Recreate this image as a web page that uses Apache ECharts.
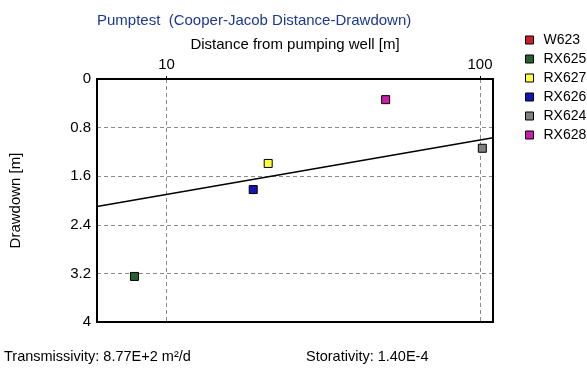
<!DOCTYPE html>
<html>
<head>
<meta charset="utf-8">
<script src="https://cdn.jsdelivr.net/npm/echarts@6/dist/echarts.min.js"></script>
<style>
html,body{margin:0;padding:0;background:#fff;}
#chart{width:587px;height:372px;}
</style>
</head>
<body>
<div id="chart"></div>
<script>
// ---- data ----
var seriesNames = ['W623', 'RX625', 'RX627', 'RX626', 'RX624', 'RX628'];
var seriesColors = ['#cc1f2e', '#27612f', '#ffff44', '#1414b4', '#808080', '#c81eaa'];
var distances = [[], [7.9], [21.1], [18.9], [101.7], [50.0]];
var drawdowns = [[], [3.25], [1.39], [1.82], [1.14], [0.34]];
var fitDistance = [6, 110];
var fitDrawdown = [2.10, 0.967];
var yTicks = [0, 0.8, 1.6, 2.4, 3.2, 4];
var xTickLabels = [10, 100];

var FONT = 'Liberation Sans';
var chart = echarts.init(document.getElementById('chart'));

var series = seriesNames.map(function (name, i) {
  return {
    name: name,
    type: 'scatter',
    symbol: 'rect',
    symbolSize: 8,
    itemStyle: { color: seriesColors[i], borderColor: '#000', borderWidth: 1, opacity: 1 },
    data: distances[i].map(function (d, j) { return [d, drawdowns[i][j]]; }),
    z: 5
  };
});
series.push({
  name: 'fit',
  type: 'line',
  symbol: 'none',
  lineStyle: { color: '#000', width: 1.5 },
  data: fitDistance.map(function (d, j) { return [d, fitDrawdown[j]]; }),
  z: 4
});

chart.setOption({
  animation: false,
  backgroundColor: '#fff',
  textStyle: { fontFamily: FONT },
  title: {
    text: 'Pumptest  (Cooper-Jacob Distance-Drawdown)',
    left: 92, top: 8,
    textStyle: { fontFamily: FONT, fontSize: 15, fontWeight: 'normal', color: '#1c3890' }
  },
  legend: {
    data: seriesNames,
    orient: 'vertical',
    left: 520, top: 28,
    itemWidth: 8, itemHeight: 8, itemGap: 5,
    icon: 'rect',
    itemStyle: { borderColor: '#000', borderWidth: 1 },
    textStyle: { fontFamily: FONT, fontSize: 14, color: '#000', padding: [0, 0, 0, 5] }
  },
  grid: { left: 97, top: 79, width: 396, height: 243 },
  xAxis: {
    type: 'log',
    logBase: 10,
    min: fitDistance[0], max: fitDistance[1],
    position: 'top',
    name: 'Distance from pumping well [m]',
    nameLocation: 'middle',
    nameGap: 23,
    nameTextStyle: { fontFamily: FONT, fontSize: 15, color: '#000' },
    axisLine: { show: true, onZero: false, lineStyle: { color: '#000', width: 2 } },
    axisTick: { show: true, length: 3, lineStyle: { color: '#000' } },
    axisLabel: {
      margin: 7, fontFamily: FONT, fontSize: 15, color: '#000',
      showMinLabel: false, showMaxLabel: false,
      formatter: function (v) { return xTickLabels.indexOf(Math.round(v)) >= 0 && Math.abs(v - Math.round(v)) < 1e-6 ? String(Math.round(v)) : ''; }
    },
    splitLine: { show: true, lineStyle: { color: '#8c8c8c', type: [4, 3], width: 1 } }
  },
  yAxis: {
    type: 'value',
    inverse: true,
    min: yTicks[0], max: yTicks[yTicks.length - 1], interval: 0.8,
    name: 'Drawdown [m]',
    nameLocation: 'middle',
    nameGap: 74,
    nameRotate: 90,
    nameTextStyle: { fontFamily: FONT, fontSize: 15, color: '#000' },
    axisLine: { show: true, onZero: false, lineStyle: { color: '#000', width: 2 } },
    axisTick: { show: false },
    axisLabel: {
      margin: 6, fontFamily: FONT, fontSize: 15, color: '#000',
      formatter: function (v) { return String(Math.round(v * 10) / 10); }
    },
    splitLine: { show: true, lineStyle: { color: '#8c8c8c', type: [4, 3], width: 1 } }
  },
  graphic: [
    { type: 'rect', shape: { x: 97, y: 79, width: 396, height: 243 }, style: { fill: 'none', stroke: '#000', lineWidth: 2 }, z: 10, silent: true },
    { type: 'text', left: 4, top: 349, style: { text: 'Transmissivity: 8.77E+2 m²/d', font: '14.5px "' + FONT + '"', fill: '#000' } },
    { type: 'text', left: 306, top: 349, style: { text: 'Storativity: 1.40E-4', font: '14.5px "' + FONT + '"', fill: '#000' } }
  ],
  series: series
});
</script>
</body>
</html>
